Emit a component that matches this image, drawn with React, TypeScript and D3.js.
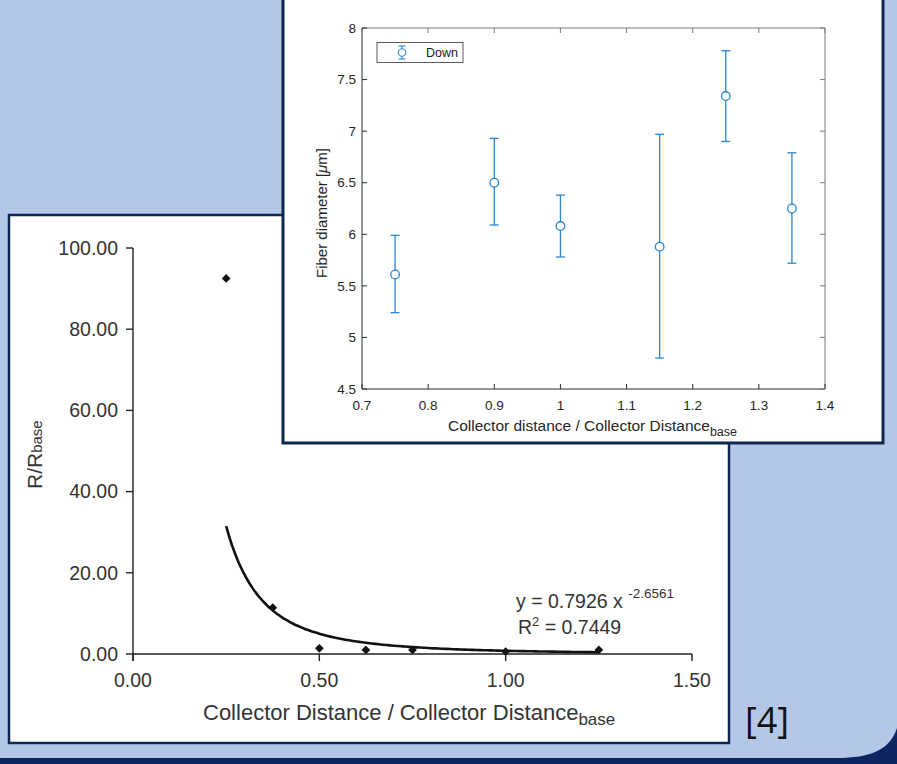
import React from "react";
import * as d3 from "d3";

// bottom chart: R/Rbase vs collector distance ratio
const ratioX = [0.25, 0.375, 0.5, 0.625, 0.75, 1.0, 1.25];
const ratioR = [92.5, 11.4, 1.4, 1.0, 1.0, 0.6, 1.0];
const fitA = 0.7926;
const fitB = -2.6561;
const bottomXTicks = [0, 0.5, 1.0, 1.5];
const bottomYTicks = [0, 20, 40, 60, 80, 100];

// top chart: fiber diameter with error bars
const distX = [0.75, 0.9, 1.0, 1.15, 1.25, 1.35];
const diaMean = [5.61, 6.5, 6.08, 5.88, 7.34, 6.25];
const diaLow = [5.24, 6.09, 5.78, 4.8, 6.9, 5.72];
const diaHigh = [5.99, 6.93, 6.38, 6.97, 7.78, 6.79];
const topXTicks = [0.7, 0.8, 0.9, 1.0, 1.1, 1.2, 1.3, 1.4];
const topYTicks = [4.5, 5, 5.5, 6, 6.5, 7, 7.5, 8];

const NAVY = "#0d2850";
const BLUE = "#2a86d1";
const SANS = "'Liberation Sans', Arial, sans-serif";

function BottomChart() {
  const x = d3.scaleLinear().domain([0, 1.5]).range([133, 692]);
  const y = d3.scaleLinear().domain([0, 100]).range([654, 248]);
  const fitXs = d3.range(0.25, 1.2501, 0.01);
  const line = d3
    .line<number>()
    .x((d) => x(d))
    .y((d) => y(fitA * Math.pow(d, fitB)))
    .curve(d3.curveMonotoneX);
  const diamond = d3.symbol().type(d3.symbolSquare).size(38)();
  const fmt = d3.format(".2f");

  return (
    <g>
      <rect x={9} y={215} width={720} height={528} fill="#fff" stroke={NAVY} strokeWidth={2.5} />
      <g stroke="#222" strokeWidth={1.4} fill="none">
        <line x1={x(0)} x2={x(0)} y1={y(100)} y2={y(0) + 7} />
        <line x1={x(0)} x2={x(1.5)} y1={y(0)} y2={y(0)} />
        {bottomYTicks.map((t) => (
          <line key={t} x1={x(0) - 7} x2={x(0)} y1={y(t)} y2={y(t)} />
        ))}
        {bottomXTicks.map((t) => (
          <line key={t} x1={x(t)} x2={x(t)} y1={y(0)} y2={y(0) + 7} />
        ))}
      </g>
      <g fontFamily={SANS} fontSize={19.5} fill="#333">
        {bottomYTicks.map((t) => (
          <text key={t} x={x(0) - 15} y={y(t)} dy="0.35em" textAnchor="end">
            {fmt(t)}
          </text>
        ))}
        {bottomXTicks.map((t) => (
          <text key={t} x={x(t)} y={y(0) + 33} textAnchor="middle">
            {fmt(t)}
          </text>
        ))}
        <text x={203} y={720} fontSize={22}>
          Collector Distance / Collector Distance
          <tspan fontSize={17} dy={5}>base</tspan>
        </text>
        <text transform="translate(42,489) rotate(-90)" fontSize={21}>
          R/R<tspan fontSize={15}>base</tspan>
        </text>
        <text x={516} y={608} fontSize={19.5}>
          y = 0.7926 x <tspan fontSize={13.5} dy={-10}>-2.6561</tspan>
        </text>
        <text x={518} y={634} fontSize={19.5}>
          R<tspan fontSize={13} dy={-8}>2</tspan>
          <tspan dy={8}> = 0.7449</tspan>
        </text>
      </g>
      <path d={line(fitXs) ?? ""} fill="none" stroke="#111" strokeWidth={2.6} />
      {ratioX.map((v, i) => (
        <path
          key={i}
          d={diamond ?? ""}
          transform={`translate(${x(v)},${y(ratioR[i])}) rotate(45)`}
          fill="#111"
        />
      ))}
    </g>
  );
}

function TopChart() {
  const x = d3.scaleLinear().domain([0.7, 1.4]).range([362, 825]);
  const y = d3.scaleLinear().domain([4.5, 8]).range([389, 28]);
  const tk = 5;
  const cap = 4.5;
  const axisDark = "#2b2b2b";
  const axisLight = "#7a7a7a";

  return (
    <g>
      <rect x={283} y={-4} width={600} height={447} fill="#fff" stroke={NAVY} strokeWidth={3} />
      <g fill="none" strokeWidth={1}>
        <line x1={x(0.7)} x2={x(1.4)} y1={y(4.5)} y2={y(4.5)} stroke={axisDark} />
        <line x1={x(0.7)} x2={x(0.7)} y1={y(4.5)} y2={y(8)} stroke={axisDark} />
        <line x1={x(0.7)} x2={x(1.4)} y1={y(8)} y2={y(8)} stroke={axisLight} />
        <line x1={x(1.4)} x2={x(1.4)} y1={y(4.5)} y2={y(8)} stroke={axisLight} />
        {topXTicks.map((t) => (
          <g key={t}>
            <line x1={x(t)} x2={x(t)} y1={y(4.5)} y2={y(4.5) - tk} stroke={axisDark} />
            <line x1={x(t)} x2={x(t)} y1={y(8)} y2={y(8) + tk} stroke={axisLight} />
          </g>
        ))}
        {topYTicks.map((t) => (
          <g key={t}>
            <line x1={x(0.7)} x2={x(0.7) + tk} y1={y(t)} y2={y(t)} stroke={axisDark} />
            <line x1={x(1.4)} x2={x(1.4) - tk} y1={y(t)} y2={y(t)} stroke={axisLight} />
          </g>
        ))}
      </g>
      <g fontFamily={SANS} fontSize={13.5} fill="#262626">
        {topXTicks.map((t) => (
          <text key={t} x={x(t)} y={y(4.5) + 21} textAnchor="middle">
            {d3.format("")(t)}
          </text>
        ))}
        {topYTicks.map((t) => (
          <text key={t} x={x(0.7) - 6} y={y(t)} dy="0.35em" textAnchor="end">
            {d3.format("")(t)}
          </text>
        ))}
        <text x={448} y={431} fontSize={15.5}>
          Collector distance / Collector Distance
          <tspan fontSize={12.5} dy={5}>base</tspan>
        </text>
        <text transform="translate(327,213) rotate(-90)" textAnchor="middle" fontSize={15}>
          Fiber diameter [<tspan fontStyle="italic">μ</tspan>m]
        </text>
      </g>
      <g stroke={BLUE} strokeWidth={1.3} fill="none">
        {distX.map((v, i) => (
          <g key={i}>
            <line x1={x(v)} x2={x(v)} y1={y(diaLow[i])} y2={y(diaHigh[i])} />
            <line x1={x(v) - cap} x2={x(v) + cap} y1={y(diaLow[i])} y2={y(diaLow[i])} />
            <line x1={x(v) - cap} x2={x(v) + cap} y1={y(diaHigh[i])} y2={y(diaHigh[i])} />
            <circle cx={x(v)} cy={y(diaMean[i])} r={4.3} fill="#fff" />
          </g>
        ))}
      </g>
      <g>
        <rect x={377} y={42.5} width={86} height={20} fill="#fff" stroke="#333" strokeWidth={0.8} />
        <g stroke={BLUE} strokeWidth={1.1} fill="none">
          <line x1={402} x2={402} y1={46} y2={59} />
          <line x1={398.5} x2={405.5} y1={46} y2={46} />
          <line x1={398.5} x2={405.5} y1={59} y2={59} />
          <circle cx={402} cy={52.5} r={3.8} fill="#fff" />
        </g>
        <text x={426} y={57} fontFamily={SANS} fontSize={12.5} fill="#222">
          Down
        </text>
      </g>
    </g>
  );
}

export default function App() {
  return (
    <svg
      width={897}
      height={764}
      style={{ position: "absolute", left: 0, top: 0, display: "block" }}
    >
      <rect x={0} y={0} width={897} height={764} fill="#0b2462" />
      <path d="M0,0 H897 V728 C890,750 870,758 837,758 H0 Z" fill="#b4c7e7" />
      <BottomChart />
      <TopChart />
      <text
        x={767}
        y={733}
        textAnchor="middle"
        fontFamily="'Open Sans', Lato, sans-serif"
        fontSize={36}
        fill="#111"
      >
        [4]
      </text>
    </svg>
  );
}
